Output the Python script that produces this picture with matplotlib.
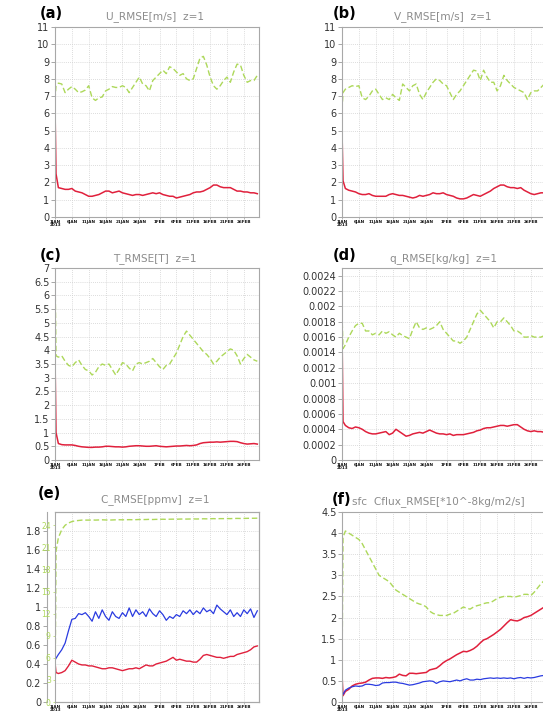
import numpy as np
import matplotlib.pyplot as plt

# time axis: days since 1 Jan 2013 (extra point at 0.3 for the spin-up drop)
days = [0, 0.3] + list(range(1, 61))
tick_days = [0, 5, 10, 15, 20, 25, 31, 36, 41, 46, 51, 56]
tick_labels = ["1JAN\n2013", "6JAN", "11JAN", "16JAN", "21JAN", "26JAN",
               "1FEB", "6FEB", "11FEB", "16FEB", "21FEB", "26FEB"]

# (a) U RMSE
u_green = [6.8, 7.6,
           7.75, 7.7, 7.2, 7.4, 7.55, 7.4, 7.2, 7.25, 7.35, 7.6,
           6.9, 6.75, 6.9, 6.95, 7.3, 7.4, 7.55, 7.5, 7.5, 7.6,
           7.5, 7.2, 7.5, 7.8, 8.1, 7.7, 7.6, 7.3, 7.9, 8.1,
           8.3, 8.5, 8.3, 8.7, 8.6, 8.4, 8.2, 8.3, 8.0, 7.9,
           8.0, 8.6, 9.2, 9.3, 8.8, 8.1, 7.6, 7.4, 7.6, 7.9,
           8.1, 7.8, 8.4, 8.85, 8.8, 8.2, 7.8, 7.9, 7.9, 8.2]
u_red = [6.4, 2.5,
         1.7, 1.65, 1.6, 1.6, 1.65, 1.5, 1.45, 1.4, 1.3, 1.2,
         1.2, 1.25, 1.3, 1.4, 1.5, 1.5, 1.4, 1.45, 1.5, 1.4,
         1.35, 1.3, 1.25, 1.3, 1.3, 1.25, 1.3, 1.35, 1.4, 1.35,
         1.4, 1.3, 1.25, 1.2, 1.2, 1.1, 1.15, 1.2, 1.25, 1.3,
         1.4, 1.45, 1.45, 1.5, 1.6, 1.7, 1.85, 1.85, 1.75, 1.7,
         1.7, 1.7, 1.6, 1.5, 1.5, 1.45, 1.45, 1.4, 1.4, 1.35]

# (b) V RMSE
v_green = [6.2, 7.2,
           7.4, 7.5, 7.6, 7.55, 7.6, 6.9, 6.8, 7.0, 7.3, 7.4,
           7.1, 6.8, 6.9, 6.8, 7.1, 6.9, 6.75, 7.7, 7.5, 7.3,
           7.6, 7.7, 7.1, 6.8, 7.2, 7.5, 7.8, 8.0, 7.9, 7.7,
           7.6, 7.2, 6.8, 7.1, 7.3, 7.6, 7.9, 8.2, 8.5, 8.45,
           7.9, 8.5, 8.1, 7.8, 7.8, 7.3, 7.6, 8.2, 7.9, 7.7,
           7.5, 7.4, 7.3, 7.2, 6.8, 7.2, 7.3, 7.3, 7.5, 7.7]
v_red = [5.0, 2.1,
         1.65, 1.55, 1.5, 1.45, 1.35, 1.3, 1.3, 1.35, 1.25, 1.2,
         1.2, 1.2, 1.2, 1.3, 1.35, 1.3, 1.25, 1.25, 1.2, 1.15,
         1.1, 1.15, 1.25, 1.2, 1.25, 1.3, 1.4, 1.35, 1.35, 1.4,
         1.3, 1.25, 1.2, 1.1, 1.05, 1.05, 1.1, 1.2, 1.3, 1.25,
         1.2, 1.3, 1.4, 1.5, 1.65, 1.75, 1.85, 1.85, 1.75, 1.7,
         1.7, 1.65, 1.7, 1.55, 1.45, 1.35, 1.3, 1.35, 1.4, 1.4]

# (c) T RMSE
t_green = [6.9, 3.8,
           3.75, 3.8, 3.6, 3.45, 3.4, 3.55, 3.65, 3.45, 3.3, 3.25,
           3.1, 3.2, 3.4, 3.5, 3.45, 3.5, 3.3, 3.1, 3.3, 3.55,
           3.5, 3.35, 3.25, 3.5, 3.55, 3.5, 3.55, 3.6, 3.7, 3.55,
           3.4, 3.3, 3.45, 3.5, 3.7, 3.9, 4.2, 4.5, 4.7, 4.55,
           4.4, 4.25, 4.1, 3.95, 3.85, 3.7, 3.5, 3.6, 3.75, 3.85,
           3.95, 4.05, 4.0, 3.8, 3.5, 3.7, 3.85, 3.75, 3.65, 3.6]
t_red = [3.8, 1.0,
         0.6, 0.56, 0.55, 0.55, 0.55, 0.53, 0.5, 0.48, 0.47, 0.46,
         0.46, 0.47, 0.47, 0.48, 0.5, 0.5, 0.49, 0.48, 0.48, 0.47,
         0.48, 0.5, 0.51, 0.52, 0.52, 0.51, 0.5, 0.5, 0.51, 0.52,
         0.5, 0.49, 0.48, 0.49, 0.5, 0.51, 0.51, 0.52, 0.53, 0.52,
         0.53, 0.55, 0.6, 0.63, 0.64, 0.65, 0.65, 0.66, 0.65, 0.66,
         0.67, 0.68, 0.68, 0.67, 0.63, 0.6, 0.58, 0.59, 0.6, 0.58]

# (d) q RMSE
q_green = [0.0019, 0.00145,
           0.0015, 0.0016, 0.00168, 0.00175, 0.00178, 0.00178, 0.00168, 0.00168, 0.00163, 0.00165,
           0.00163, 0.00168, 0.00165, 0.00167, 0.00163, 0.0016, 0.00165, 0.00162, 0.0016, 0.00158,
           0.0017, 0.0018, 0.00172, 0.0017, 0.00172, 0.0017, 0.00172, 0.00175, 0.0018, 0.0017,
           0.00165, 0.0016, 0.00155, 0.00155, 0.00152, 0.00155, 0.0016, 0.0017, 0.0018, 0.0019,
           0.00195, 0.0019, 0.00185, 0.0018, 0.00172, 0.0018, 0.0018, 0.00185, 0.0018, 0.00175,
           0.00168, 0.00168, 0.00165, 0.0016, 0.0016, 0.00162, 0.0016, 0.0016, 0.0016, 0.00162]
q_red = [0.0017, 0.0005,
         0.00045, 0.00042, 0.00041, 0.00043, 0.00042, 0.0004, 0.00037, 0.00035, 0.00034, 0.00034,
         0.00035, 0.00036, 0.00037, 0.00033, 0.00035, 0.0004, 0.00037, 0.00034, 0.00031, 0.00032,
         0.00034, 0.00035, 0.00036, 0.00035, 0.00037, 0.00039, 0.00037, 0.00035, 0.00034, 0.00034,
         0.00033, 0.00034, 0.00032, 0.00033, 0.00033, 0.00033, 0.00034, 0.00035, 0.00036, 0.00038,
         0.00039, 0.00041, 0.00042, 0.00042, 0.00043, 0.00044, 0.00045, 0.00045, 0.00044, 0.00045,
         0.00046, 0.00046, 0.00043, 0.0004, 0.00038, 0.00037, 0.00038, 0.00037, 0.00037, 0.00036]

# (e) C RMSE (green on the inner 0-24 scale)
c_green = [0.0, 20.5,
           22.3, 23.4, 24.0, 24.3, 24.5, 24.6, 24.65, 24.7, 24.7, 24.7,
           24.72, 24.7, 24.72, 24.74, 24.72, 24.7, 24.72, 24.74, 24.75, 24.74,
           24.75, 24.76, 24.75, 24.76, 24.78, 24.77, 24.78, 24.8, 24.78, 24.8,
           24.8, 24.82, 24.8, 24.82, 24.83, 24.82, 24.84, 24.85, 24.84, 24.85,
           24.86, 24.85, 24.86, 24.88, 24.87, 24.88, 24.9, 24.88, 24.9, 24.9,
           24.91, 24.9, 24.92, 24.93, 24.92, 24.93, 24.94, 24.95, 24.95, 24.96]
c_red = [0.42, 0.31,
         0.3, 0.31, 0.33, 0.38, 0.44, 0.42, 0.4, 0.39, 0.39, 0.38,
         0.38, 0.37, 0.36, 0.35, 0.35, 0.36, 0.36, 0.35, 0.34, 0.33,
         0.34, 0.35, 0.35, 0.36, 0.35, 0.37, 0.39, 0.38, 0.38, 0.4,
         0.41, 0.42, 0.43, 0.45, 0.47, 0.44, 0.45, 0.44, 0.43, 0.43,
         0.42, 0.42, 0.45, 0.49, 0.5, 0.49, 0.48, 0.47, 0.47, 0.46,
         0.47, 0.48, 0.48, 0.5, 0.51, 0.52, 0.53, 0.55, 0.58, 0.59]
c_blue = [0.44, 0.46,
          0.5, 0.55, 0.62, 0.75, 0.87, 0.88, 0.93, 0.92, 0.94, 0.9,
          0.85, 0.95, 0.88, 0.97, 0.9, 0.86, 0.95, 0.9, 0.88, 0.94,
          0.9, 0.99, 0.9, 0.97, 0.92, 0.95, 0.9, 0.98, 0.93, 0.9,
          0.96, 0.92, 0.86, 0.9, 0.88, 0.92, 0.9, 0.96, 0.93, 0.97,
          0.92, 0.96, 0.93, 0.99, 0.95, 0.97, 0.93, 1.02, 0.98, 0.95,
          0.92, 0.97, 0.9, 0.94, 0.9, 0.97, 0.93, 0.98, 0.89, 0.96]

# (f) surface C flux RMSE
f_green = [0.6, 3.9,
           4.05, 4.0, 3.95, 3.9, 3.85, 3.75, 3.6, 3.45, 3.3, 3.15,
           3.0, 2.95, 2.9, 2.85, 2.75, 2.65, 2.6, 2.55, 2.5, 2.45,
           2.4, 2.35, 2.32, 2.3, 2.25, 2.15, 2.1, 2.07, 2.05, 2.05,
           2.05, 2.08, 2.1, 2.15, 2.2, 2.25, 2.22, 2.2, 2.25, 2.28,
           2.3, 2.33, 2.35, 2.35, 2.4, 2.45, 2.48, 2.5, 2.5, 2.5,
           2.48, 2.5, 2.52, 2.55, 2.55, 2.52, 2.6, 2.7, 2.8, 2.88]
f_red = [0.65, 0.15,
         0.25, 0.3, 0.38, 0.42, 0.44, 0.45, 0.47, 0.52, 0.56, 0.57,
         0.57, 0.56, 0.58, 0.57, 0.58, 0.6, 0.66, 0.63, 0.62, 0.68,
         0.68, 0.67, 0.68, 0.69, 0.7, 0.76, 0.78, 0.8, 0.86, 0.93,
         0.98, 1.02, 1.07, 1.12, 1.16, 1.2, 1.19, 1.22, 1.26, 1.32,
         1.4, 1.47, 1.5, 1.55, 1.6, 1.66, 1.72, 1.8, 1.88, 1.95,
         1.93, 1.92, 1.95, 2.0, 2.02, 2.05, 2.1, 2.15, 2.2, 2.25]
f_blue = [0.2, 0.18,
          0.28, 0.33, 0.36, 0.38, 0.37, 0.38, 0.42, 0.42, 0.41, 0.39,
          0.4, 0.45, 0.46, 0.46, 0.47, 0.47, 0.45, 0.44, 0.42, 0.4,
          0.41, 0.43, 0.45, 0.48, 0.49, 0.5, 0.49, 0.44, 0.48, 0.5,
          0.49, 0.48, 0.5, 0.52, 0.5, 0.53, 0.55, 0.52, 0.52, 0.54,
          0.53, 0.55, 0.56, 0.57, 0.56, 0.57, 0.56, 0.57, 0.56, 0.57,
          0.55, 0.57, 0.58, 0.56, 0.58, 0.57, 0.58, 0.6, 0.62, 0.63]

RED = "#e0203c"
GREEN = "#add85a"
BLUE = "#2a3be0"
GRID = "#d0d0d0"
W, H = 543, 713


def px_box(left, top, right, bottom):
    return [left / W, 1 - bottom / H, (right - left) / W, (bottom - top) / H]


def set_yticks(ax, top, step):
    yt = np.round(np.arange(0, top + step * 0.01, step), 6)
    ax.set_yticks(yt)
    ax.set_yticklabels(["%g" % v for v in yt])


def style_axes(ax, ymax, ytop, ystep):
    ax.set_xlim(0, 60.5)
    ax.set_ylim(0, ymax)
    set_yticks(ax, ytop, ystep)
    ax.set_xticks(tick_days)
    ax.set_xticklabels(tick_labels)
    ax.tick_params(axis="y", labelsize=7, length=3, width=0.6, colors="#999999",
                   labelcolor="#333333", pad=1)
    ax.tick_params(axis="x", labelsize=3, length=1.5, width=0.5, colors="#999999",
                   labelcolor="#111111", pad=0.5)
    for lab in ax.get_xticklabels():
        lab.set_fontweight("bold")
        lab.set_linespacing(0.75)
    for sp in ax.spines.values():
        sp.set_color("#a8a8a8")
        sp.set_linewidth(0.8)
    ax.grid(True, color=GRID, linestyle=(0, (1, 1.5)), linewidth=0.6)
    ax.set_axisbelow(True)


def head(x_lab, y_lab, label, title, x_title, y_title, ha="center"):
    fig.text(x_lab / W, 1 - y_lab / H, label, fontsize=10.5, fontweight="bold",
             va="center", ha="left")
    fig.text(x_title / W, 1 - y_title / H, title, fontsize=7.6, color="#8c8c8c",
             va="center", ha=ha)


fig = plt.figure(figsize=(W / 100, H / 100), dpi=100)

LX0, LX1 = 55, 259
RX0, RX1 = 342, 546
rows = [(27, 217), (268, 460), (512, 702)]

panels = [
    (px_box(LX0, rows[0][0], LX1, rows[0][1]), u_green, u_red, 11, 11, 1),
    (px_box(RX0, rows[0][0], RX1, rows[0][1]), v_green, v_red, 11, 11, 1),
    (px_box(LX0, rows[1][0], LX1, rows[1][1]), t_green, t_red, 7, 7, 0.5),
    (px_box(RX0, rows[1][0], RX1, rows[1][1]), q_green, q_red, 0.0025, 0.0024, 0.0002),
]

for box, green, red, ymax, ytop, ystep in panels:
    ax = fig.add_axes(box)
    style_axes(ax, ymax, ytop, ystep)
    ax.plot(days, green, color=GREEN, lw=1.0, dashes=(4, 2))
    ax.plot(days, red, color=RED, lw=1.1)

# (e) with the inner green scale
ax_e = fig.add_axes(px_box(LX0, rows[2][0], LX1, rows[2][1]))
style_axes(ax_e, 2.0, 1.8, 0.2)
ax_e.spines["left"].set_position(("outward", 6))
ax_e.plot(days, c_red, color=RED, lw=1.0)
ax_e.plot(days, c_blue, color=BLUE, lw=0.9)
tw = ax_e.twinx()
tw.set_ylim(0, 25.8)
tw.set_yticks(np.arange(0, 25, 3))
tw.yaxis.tick_left()
tw.tick_params(axis="y", labelsize=5.5, length=1.5, width=0.5, colors=GREEN, pad=1.5)
for sp in tw.spines.values():
    sp.set_color("#a8a8a8")
    sp.set_linewidth(0.8)
tw.plot(days, c_green, color=GREEN, lw=1.0, dashes=(4, 2))

# (f)
ax_f = fig.add_axes(px_box(RX0, rows[2][0], RX1, rows[2][1]))
style_axes(ax_f, 4.5, 4.5, 0.5)
ax_f.plot(days, f_green, color=GREEN, lw=1.0, dashes=(4, 2))
ax_f.plot(days, f_red, color=RED, lw=1.1)
ax_f.plot(days, f_blue, color=BLUE, lw=0.9)

head(40, 13, "(a)", "U_RMSE[m/s]  z=1", 155, 17)
head(333, 13, "(b)", "V_RMSE[m/s]  z=1", 443, 17)
head(40, 256, "(c)", "T_RMSE[T]  z=1", 155, 259)
head(333, 256, "(d)", "q_RMSE[kg/kg]  z=1", 443, 259)
head(38, 493, "(e)", "C_RMSE[ppmv]  z=1", 155, 500)
head(332, 499, "(f)", "sfc  Cflux_RMSE[*10^-8kg/m2/s]", 352, 502, ha="left")

plt.savefig("out.png", dpi=100)
